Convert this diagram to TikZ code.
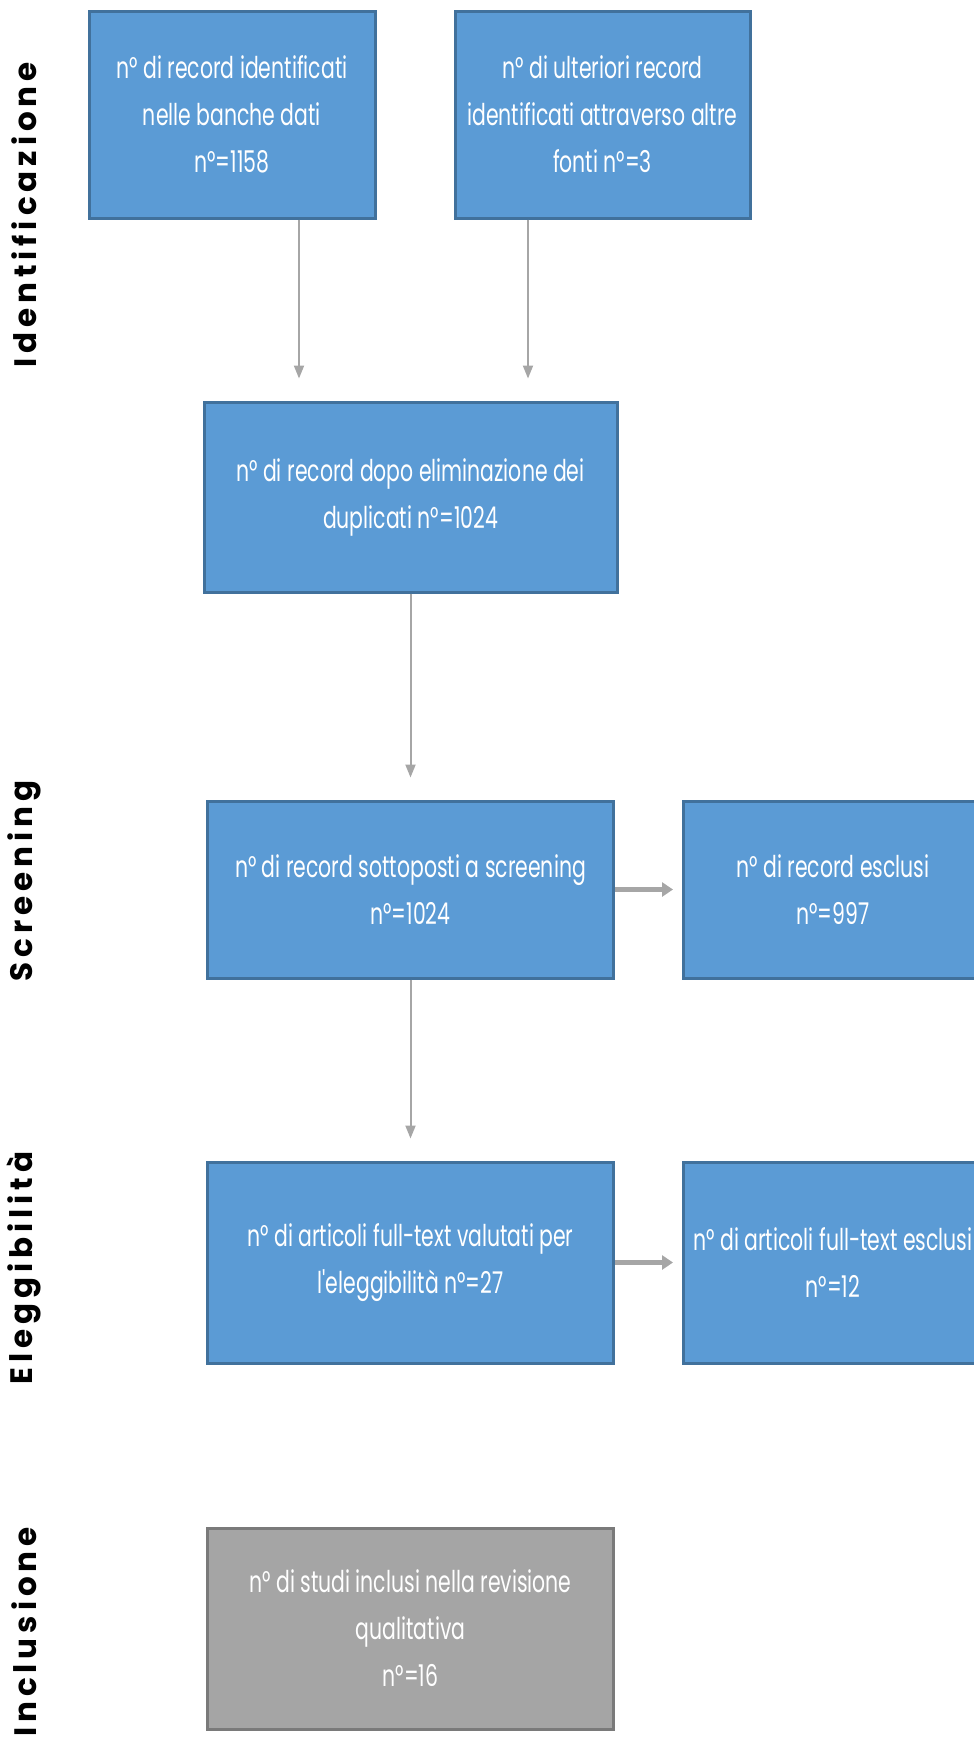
\documentclass[tikz,border=0pt]{standalone}
\usepackage{xcolor}
\usepackage{fontspec}
\usepackage{tikz}
\usetikzlibrary{arrows.meta, positioning}

\newfontfamily\boxfont[FakeStretch=0.68]{Poppins}
\newfontfamily\phasefont[LetterSpace=16]{Poppins}

\definecolor{boxblue}{HTML}{5B9BD5}
\definecolor{boxedge}{HTML}{41719C}
\definecolor{boxgray}{HTML}{A5A5A5}
\definecolor{grayedge}{HTML}{7A7A7A}
\definecolor{arrowgray}{HTML}{A6A6A6}

\begin{document}
\begin{tikzpicture}[
    x=1pt, y=-1pt,
    node distance=206pt and 67pt,
    block/.style={
        rectangle, draw=boxedge,
        line width=3pt,
        fill=boxblue,
        text=white,
        align=center,
        inner sep=0pt,
        font=\boxfont\fontsize{30}{47}\selectfont
    },
    final/.style={block, draw=grayedge, fill=boxgray},
    phase/.style={rotate=90, font=\phasefont\bfseries\fontsize{31}{34}\selectfont},
    down/.style={draw=arrowgray, line width=2pt, -{Triangle[length=13pt, width=10pt]}, shorten >=22pt},
    side/.style={draw=arrowgray, line width=5pt, -{Triangle[length=11pt, width=14pt]}, shorten >=9pt}
]
\useasboundingbox (0,0) rectangle (974,1751);
\clip (0,0) rectangle (974,1751);

% Phases
\node [phase] (ph-id) at (24,215) {Identificazione};
\node [phase] (ph-scr) at (24,881) {Screening};
\node [phase] (ph-el) at (24,1268) {Eleggibilità};
\node [phase] (ph-inc) at (24,1632) {Inclusione};

% Identificazione
\node [block, minimum width=286pt, minimum height=207pt] (found) at (232,114.5)
    {n° di record identificati\\nelle banche dati\\n°=1158};
\node [block, minimum width=295pt, minimum height=207pt, right=77pt of found] (other)
    {n° di ulteriori record\\identificati attraverso altre\\fonti n°=3};
\node [block, minimum width=413pt, minimum height=190pt] (dedup) at (410.5,497)
    {n° di record dopo eliminazione dei\\duplicati n°=1024};

% Screening
\node [block, minimum width=406pt, minimum height=177pt, below=206pt of dedup] (screen)
    {n° di record sottoposti a screening\\n°=1024};
\node [block, minimum width=299pt, minimum height=177pt, right=of screen] (excl)
    {n° di record esclusi\\n°=997};

% Eleggibilita
\node [block, minimum width=406pt, minimum height=201pt, below=181pt of screen] (fulltext)
    {n° di articoli full-text valutati per\\l'eleggibilità n°=27};
\node [block, minimum width=299pt, minimum height=201pt, right=of fulltext] (ftexcl)
    {n° di articoli full-text esclusi\\n°=12};

% Inclusione
\node [final, minimum width=406pt, minimum height=201pt, below=162pt of fulltext] (incl)
    {n° di studi inclusi nella revisione\\qualitativa\\n°=16};

% Arrows
\draw [down] ([xshift=67pt]found.south) -- ([xshift=67pt]found.south |- dedup.north);
\draw [down] ([xshift=-74.5pt]other.south) -- ([xshift=-74.5pt]other.south |- dedup.north);
\draw [down] (dedup.south) -- (dedup.south |- screen.north);
\draw [side] (screen.east) -- (excl.west);
\draw [down] (screen.south) -- (fulltext.north);
\draw [side] (fulltext.east) -- (ftexcl.west);

\end{tikzpicture}
\end{document}
